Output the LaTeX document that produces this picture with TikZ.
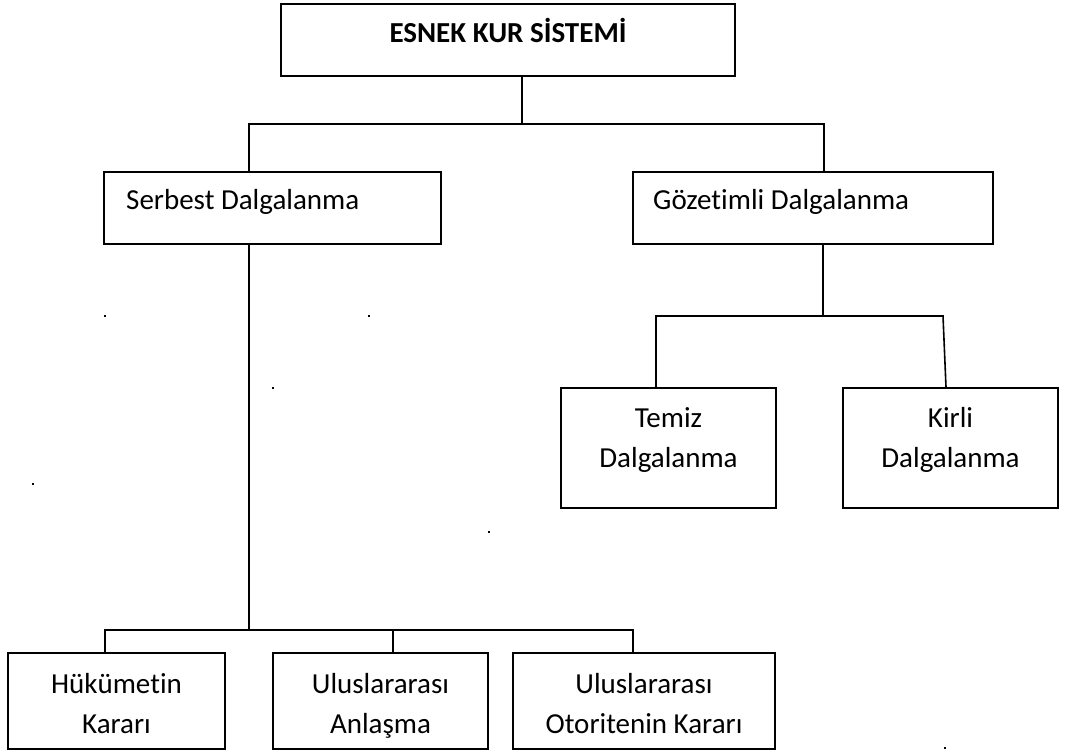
\documentclass[tikz,border=0pt]{standalone}
\usepackage{fontspec}
\setmainfont{Carlito}[Ligatures=NoCommon]
\usetikzlibrary{positioning}
\tikzset{
  kutu/.style={draw, line width=1.6pt, inner sep=0pt},
  yazi/.style={font=\fontsize{29}{40}\selectfont, align=center, inner sep=0pt, anchor=base},
  bag/.style={line width=1.6pt},
  nokta/.style={fill, inner sep=0pt, minimum size=2pt}
}
\begin{document}
\begin{tikzpicture}[x=1pt,y=-1pt]
\useasboundingbox (0,0) rectangle (1065,751);
% kutular
\node[kutu, minimum width=454pt, minimum height=72pt] (ana) at (508,40) {};
\node[kutu, minimum width=337pt, minimum height=72pt] (serbest) at (272.5,208) {};
\node[kutu, minimum width=360pt, minimum height=72pt] (gozetim) at (813,208) {};
\node[kutu, minimum width=215pt, minimum height=120pt] (temiz) at (668.5,448) {};
\node[kutu, minimum width=215pt, minimum height=120pt] (kirli) at (950.5,448) {};
\node[kutu, minimum width=217pt, minimum height=96pt] (hukumet) at (116.5,701) {};
\node[kutu, minimum width=215pt, minimum height=96pt] (anlasma) at (380.5,701) {};
\node[kutu, minimum width=262pt, minimum height=96pt] (otorite) at (644,701) {};
% yazilar (taban = son satir)
\node[yazi, font=\fontsize{29}{40}\selectfont\bfseries] (anaT) at (508,43) {ESNEK KUR SİSTEMİ};
\node[yazi, anchor=base west] (serbestT) at (126,210) {Serbest Dalgalanma};
\node[yazi, anchor=base west] (gozetimT) at (653,210) {Gözetimli Dalgalanma};
\node[yazi] (temizT) at (668.5,467) {Temiz\\Dalgalanma};
\node[yazi] (kirliT) at (950.5,467) {Kirli\\Dalgalanma};
\node[yazi] (hukumetT) at (116.5,733) {Hükümetin\\Kararı};
\node[yazi] (anlasmaT) at (380.5,733) {Uluslararası\\Anlaşma};
\node[yazi] (otoriteT) at (644,733) {Uluslararası\\Otoritenin Kararı};
% baglantilar
\coordinate (ustbag) at (522,124);
\coordinate (sagbag) at (823,316);
\coordinate (kirlidon) at (943,316);
\coordinate (altbag) at (249,630);
\draw[bag] (ustbag |- ana.south) -- (ustbag);
\draw[bag] ([xshift=-23.5pt]serbest.north) |- (ustbag) -| ([xshift=11pt]gozetim.north);
\draw[bag] (sagbag |- gozetim.south) -- (sagbag);
\draw[bag] ([xshift=-12.5pt]temiz.north) |- (sagbag) -- (kirlidon) -- ([xshift=-4.5pt]kirli.north);
\draw[bag] (altbag |- serbest.south) -- (altbag);
\draw[bag] ([xshift=-11.5pt]hukumet.north) |- (altbag) -| ([xshift=-11pt]otorite.north);
\draw[bag] ([xshift=12.5pt]anlasma.north) -- ([xshift=12.5pt]anlasma.north |- altbag);
% noktalar
\foreach \x/\y [count=\i] in {105/316, 369/316, 273/388, 33/484, 489/532, 945/748}
  \node[nokta] (nokta\i) at (\x,\y) {};
\end{tikzpicture}
\end{document}
